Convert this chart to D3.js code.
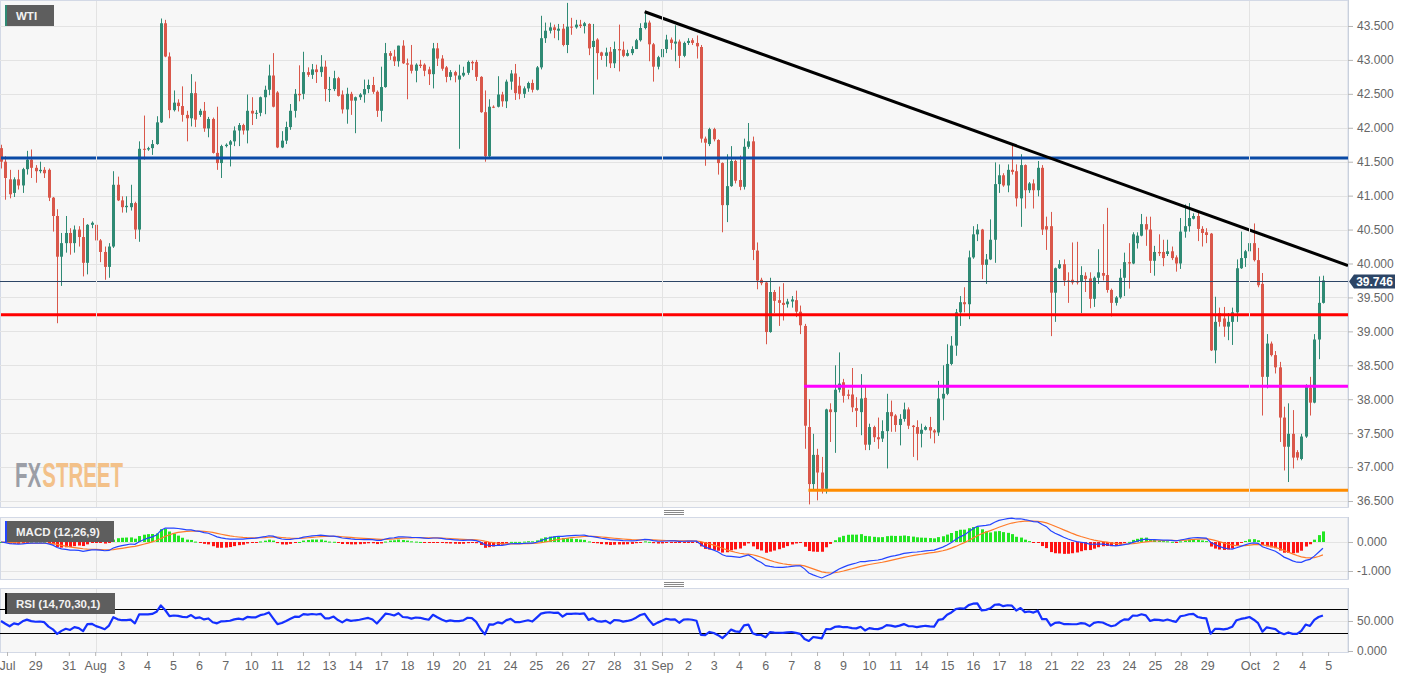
<!DOCTYPE html>
<html><head><meta charset="utf-8">
<script src="https://cdnjs.cloudflare.com/ajax/libs/d3/7.8.5/d3.min.js"></script>
<style>body{margin:0;background:#fff}svg{display:block}text{font-family:"Liberation Sans",Arial,sans-serif}</style>
</head><body><svg id="c" width="1413" height="678"></svg>
<script>
// ---- WTI 4-hour candles ----
const opens=[41.70,41.50,41.24,41.04,41.24,41.15,41.39,41.53,41.41,41.36,
41.38,41.38,40.97,40.70,40.10,40.30,40.45,40.30,40.50,40.39,
40.01,40.57,40.57,40.34,40.17,39.95,40.25,41.16,40.93,40.83,
40.83,40.89,40.50,41.69,41.68,41.70,41.76,42.08,43.54,43.05,
42.26,42.37,42.32,42.19,42.14,42.51,42.19,42.25,41.99,42.13,
41.63,41.48,41.73,41.75,41.80,41.96,42.04,41.96,42.25,42.21,
42.22,42.45,42.56,42.77,42.52,41.71,41.81,42.01,42.25,42.50,
42.50,42.82,42.78,42.86,42.82,42.90,42.57,42.57,42.73,42.49,
42.27,42.50,42.40,42.45,42.49,42.57,42.63,42.53,42.25,42.60,
43.10,43.05,42.98,43.21,42.95,42.93,42.84,42.93,42.93,42.86,
42.79,43.17,43.02,42.89,42.75,42.82,42.71,42.77,42.81,42.97,
42.97,42.75,42.23,41.58,42.31,42.31,42.49,42.39,42.68,42.80,
42.62,42.50,42.58,42.66,42.56,42.89,43.32,43.43,43.48,43.43,
43.46,43.22,43.49,43.48,43.52,43.50,43.53,43.19,43.30,43.11,
43.06,43.12,42.95,43.16,43.15,43.06,43.10,43.16,43.29,43.47,
43.55,43.23,42.90,43.04,43.16,43.30,43.24,43.27,43.06,43.25,
43.29,43.25,43.19,41.84,41.76,41.98,41.82,41.48,40.86,41.14,
41.51,41.23,41.13,41.72,41.80,40.19,39.76,39.72,38.99,39.58,
39.46,39.42,39.40,39.44,39.46,39.29,39.08,37.59,36.75,37.18,
36.92,36.68,37.85,37.81,38.14,38.25,38.07,38.07,37.87,37.81,
38.02,37.33,37.59,37.44,37.42,37.53,37.81,37.76,37.62,37.71,
37.85,37.61,37.59,37.49,37.55,37.59,37.54,37.51,38.01,38.08,
38.52,38.79,39.28,39.43,39.40,40.09,40.43,40.50,39.98,40.06,
40.35,41.17,41.30,41.15,41.38,41.36,40.96,41.45,41.08,41.18,
41.08,41.41,40.55,40.55,39.57,39.93,39.99,39.75,39.76,39.74,
39.73,39.82,39.78,39.48,39.79,39.86,39.83,39.61,39.42,39.50,
39.79,40.02,40.00,40.30,40.41,40.58,40.50,40.04,40.17,40.17,
40.14,40.18,40.09,40.00,40.47,40.55,40.66,40.70,40.51,40.46,
40.44,38.72,39.27,39.19,39.07,39.14,39.28,39.93,40.08,40.18,
40.30,40.05,39.70,38.33,38.82,38.65,38.47,37.73,37.30,37.49,
37.22,37.12,37.45,38.17,37.95,38.88,39.42];
const highs=[41.75,41.58,41.38,41.27,41.38,41.41,41.66,41.68,41.45,41.50,
41.42,41.40,40.98,40.80,40.45,40.70,40.52,40.56,40.55,40.67,
40.58,40.62,40.60,40.36,40.25,40.30,41.36,41.28,40.99,40.99,
41.16,40.91,41.80,42.18,41.72,41.82,42.17,43.61,43.59,43.11,
42.55,42.42,42.61,42.25,42.79,42.68,42.28,42.38,42.16,42.15,
42.31,41.75,41.77,41.82,42.02,42.07,42.06,42.49,42.45,42.26,
42.46,42.62,42.93,43.10,42.54,41.95,42.09,42.35,42.57,42.92,
43.12,42.89,42.94,42.93,43.07,42.99,42.75,42.84,42.75,42.55,
42.59,42.53,42.46,42.51,42.71,42.71,42.75,42.55,42.90,43.25,
43.13,43.15,43.21,43.29,43.02,43.22,42.95,43.00,42.95,42.90,
43.25,43.25,43.07,42.91,42.85,42.84,42.93,42.90,42.99,42.99,
43.00,42.76,42.55,42.42,42.33,42.76,42.53,42.71,42.85,42.94,
42.75,42.61,42.68,42.71,42.91,43.65,43.55,43.55,43.52,43.53,
43.53,43.84,43.62,43.59,43.59,43.56,43.54,43.53,43.32,43.12,
43.18,43.19,43.27,43.52,43.27,43.15,43.20,43.31,43.54,43.71,
43.58,43.25,43.06,43.17,43.37,43.33,43.51,43.30,43.27,43.32,
43.32,43.36,43.22,41.87,42.00,42.00,41.83,41.49,41.61,41.73,
41.53,41.59,41.84,42.07,41.87,40.31,39.79,39.73,39.79,39.61,
39.66,39.71,39.48,39.52,39.60,39.38,39.11,38.00,37.49,37.27,
37.15,37.86,37.94,38.50,38.69,38.30,38.14,38.46,38.03,38.37,
38.19,37.64,37.61,37.73,37.69,38.08,37.98,37.78,37.78,37.95,
37.88,37.62,37.69,37.64,37.61,37.74,37.56,38.27,38.50,38.81,
38.93,39.33,39.52,39.65,40.19,40.55,40.58,40.51,40.14,40.65,
41.49,41.46,41.33,41.46,41.75,41.46,41.61,41.46,41.20,41.24,
41.51,41.45,40.69,40.76,39.94,40.05,40.06,39.87,40.31,40.32,
39.96,39.87,39.87,39.81,40.21,40.58,40.82,39.63,39.52,39.92,
40.16,40.30,40.46,40.46,40.73,40.69,40.69,40.26,40.43,40.35,
40.35,40.25,40.12,40.67,40.87,40.89,40.74,40.77,40.55,40.52,
40.45,39.51,39.35,39.36,39.27,39.35,40.06,40.47,40.20,40.40,
40.59,40.23,39.86,38.96,38.85,38.71,38.55,37.89,37.94,37.84,
37.25,37.49,38.22,38.33,38.96,39.81,39.82];
const lows=[41.40,40.94,40.96,40.98,41.09,41.04,41.31,41.26,41.19,41.33,
41.26,40.92,40.47,39.12,39.67,40.16,40.13,40.16,40.25,39.81,
39.84,40.52,40.32,40.02,39.76,39.79,40.23,40.92,40.75,40.75,
40.78,40.36,40.32,41.53,41.66,41.60,41.75,42.07,43.04,42.14,
42.24,42.24,42.09,41.80,42.02,42.01,42.16,41.94,41.86,41.62,
41.38,41.26,41.71,41.43,41.73,41.73,41.90,41.77,42.04,42.13,
42.17,42.20,42.48,42.30,41.70,41.70,41.76,41.97,42.15,42.39,
42.42,42.75,42.72,42.66,42.75,42.39,42.38,42.54,42.46,42.21,
42.06,42.19,41.92,42.41,42.37,42.51,42.50,42.16,42.09,42.59,
43.00,42.91,42.90,42.94,42.42,42.80,42.67,42.88,42.76,42.63,
42.58,42.91,42.84,42.67,42.70,42.67,41.69,42.75,42.78,42.85,
42.69,42.22,41.50,41.57,42.29,42.30,42.31,42.29,42.56,42.41,
42.42,42.44,42.53,42.52,42.55,42.86,43.25,43.39,43.32,43.29,
43.20,43.10,43.37,43.46,43.47,43.39,43.07,42.49,42.71,43.00,
42.90,42.88,42.88,42.83,43.04,43.05,43.07,43.16,43.27,43.45,
42.98,42.68,42.86,43.03,43.10,43.15,42.98,42.88,43.04,43.22,
43.22,43.02,41.78,41.44,41.73,41.80,41.31,40.46,40.61,41.13,
41.18,41.08,41.09,41.69,40.05,39.62,39.68,38.81,38.98,39.27,
39.08,39.16,39.35,39.35,39.21,38.96,37.27,36.45,36.67,36.51,
36.61,36.61,37.37,37.21,38.10,37.95,38.00,37.81,37.59,37.47,
37.25,37.25,37.37,37.27,37.37,36.98,37.52,37.52,37.32,37.67,
37.56,37.15,37.10,37.29,37.54,37.42,37.35,37.46,37.69,38.06,
38.50,38.64,39.08,39.28,39.18,40.07,40.33,39.77,39.70,40.05,
40.01,41.04,41.13,41.05,41.31,40.84,40.54,40.81,41.04,40.81,
40.99,40.42,40.20,38.93,39.14,39.92,39.67,39.42,39.69,39.69,
39.27,39.58,39.34,39.36,39.70,39.75,39.57,39.22,39.38,39.48,
39.52,39.63,39.99,40.22,40.40,40.26,39.86,39.82,40.11,39.96,
40.11,40.05,39.88,39.92,40.38,40.47,40.65,40.33,40.25,40.30,
38.71,38.53,39.07,38.92,38.87,38.80,39.14,39.92,39.95,40.15,
40.03,39.65,37.76,38.16,38.63,38.38,37.37,36.95,36.78,36.98,
37.10,37.10,37.43,37.76,37.94,38.59,39.41];
const closes=[41.50,41.26,41.02,41.24,41.15,41.39,41.53,41.41,41.36,41.38,
41.33,40.97,40.70,40.10,40.30,40.45,40.30,40.50,40.39,40.01,
40.57,40.60,40.34,40.17,39.95,40.25,41.16,40.93,40.83,40.85,
40.89,40.50,41.69,41.68,41.70,41.76,42.08,43.54,43.05,42.26,
42.37,42.32,42.19,42.14,42.51,42.12,42.25,41.99,42.13,41.63,
41.48,41.73,41.75,41.80,41.96,42.04,41.96,42.25,42.21,42.22,
42.45,42.56,42.77,42.31,41.71,41.81,42.01,42.25,42.50,42.48,
42.82,42.78,42.86,42.82,42.90,42.57,42.57,42.73,42.47,42.27,
42.50,42.40,42.45,42.49,42.57,42.63,42.53,42.25,42.60,43.10,
43.06,42.98,43.21,42.95,42.93,42.84,42.93,42.91,42.84,42.79,
43.17,43.02,42.87,42.75,42.82,42.77,42.77,42.81,42.97,42.95,
42.75,42.23,41.58,42.31,42.30,42.49,42.39,42.68,42.80,42.51,
42.50,42.58,42.66,42.56,42.89,43.32,43.43,43.48,43.44,43.46,
43.22,43.49,43.48,43.52,43.50,43.54,43.17,43.28,43.10,43.06,
43.11,42.95,43.16,43.14,43.06,43.10,43.16,43.29,43.47,43.55,
43.23,42.90,43.04,43.16,43.30,43.25,43.27,43.06,43.25,43.28,
43.25,43.20,41.84,41.78,41.98,41.83,41.48,40.86,41.14,41.51,
41.22,41.13,41.72,41.80,40.20,39.75,39.71,38.99,39.58,39.45,
39.42,39.39,39.44,39.47,39.29,39.09,37.61,36.75,37.18,36.92,
36.68,37.85,37.81,38.14,38.23,38.05,38.05,37.88,37.83,38.01,
37.33,37.59,37.44,37.41,37.53,37.81,37.75,37.62,37.71,37.85,
37.61,37.59,37.49,37.55,37.59,37.54,37.51,38.01,38.08,38.52,
38.79,39.28,39.43,39.40,40.09,40.43,40.50,39.98,40.06,40.35,
41.17,41.30,41.15,41.38,41.35,40.96,41.45,41.08,41.18,41.08,
41.41,40.50,40.50,39.57,39.93,39.99,39.75,39.73,39.72,39.72,
39.83,39.77,39.48,39.79,39.87,39.82,39.61,39.42,39.50,39.79,
40.02,40.00,40.43,40.41,40.58,40.50,40.04,40.17,40.15,40.08,
40.18,40.08,40.00,40.47,40.55,40.67,40.70,40.51,40.45,40.42,
38.72,39.14,39.14,39.07,39.14,39.28,39.93,40.08,40.18,40.30,
40.05,39.68,38.33,38.82,38.65,38.47,37.73,37.30,37.49,37.14,
37.14,37.45,38.21,37.95,38.88,39.42,39.75];

// ---- axis labels ----
const dayLabels=["Jul","29","31","Aug","3","4","5","6","7","10","11","12","13","14","17","18","19","20","21","24","25","26","27","28","31","Sep","2","3","4","6","7","8","9","10","11","14","15","16","17","18","21","22","23","24","25","28","29","Oct","2","4","5"];
const dayIdx=[1.4,7.9,15.7,21.8,27.8,33.8,39.8,45.8,51.9,57.9,63.9,69.9,75.9,82,88,94,100,106,111.8,117.8,123.8,129.9,135.9,141.9,147.9,153,159,165,170.8,176.9,182.9,188.9,194.9,200.9,207,213,219,225,231,237,243.1,249.1,255.1,261.1,267.1,273.1,279.2,289.1,295.1,301.2,307.2];
const monthIdx=[21.9,152.9,288.9];
const priceTicks=[36.5,37,37.5,38,38.5,39,39.5,40,40.5,41,41.5,42,42.5,43,43.5];
const macdTicks=[0,-1];
const rsiTicks=[0,50];
const rsiBands=[70,30];
const lastPrice=39.746;
// drawn study lines
const hLevels=[{p:41.555,from:0,color:"#0a4aa6"},{p:39.245,from:0,color:"#ff0000"},{p:38.19,from:185.9,color:"#ff00ff"},{p:36.657,from:186.9,color:"#ff8c00"}];
const trendLine=[{i:149,p:43.71},{i:311.8,p:39.97}];

// ---- indicators derived from closes ----
function ema(a,n){const k=2/(n+1);let e=a[0];return a.map((v,i)=>i===0?e:(e=v*k+e*(1-k)));}
const e12=ema(closes,12), e26=ema(closes,26);
const macd=closes.map((_,i)=>e12[i]-e26[i]);
const signal=ema(macd,9);
const hist=macd.map((m,i)=>m-signal[i]);
const rsi=(()=>{let ag=0.09,al=0.09;const out=[50];for(let i=1;i<closes.length;i++){const ch=closes[i]-closes[i-1];ag=(ag*13+Math.max(ch,0))/14;al=(al*13+Math.max(-ch,0))/14;out.push(100-100/(1+ag/al));}return out;})();

// ---- layout ----
const svg=d3.select("#c");
const PW=1348;
const x=d3.scaleLinear().domain([0,306]).range([1,1+306*4.32]);
const y=d3.scaleLinear().domain([36.412,43.868]).range([507,1]);
const ym=d3.scaleLinear().domain([-1.276,0.862]).range([579,517]);
// histogram uses its own (tighter) scale, zero aligned with the MACD zero line
const yh=d3.scaleLinear().domain([-1.276/1.6,0.862/1.6]).range([579,517]);
const yr=d3.scaleLinear().domain([-1.67,105]).range([652,588]);
const N=closes.length, idx=d3.range(N);

const defs=svg.append("defs");
function clip(id,y0,y1){defs.append("clipPath").attr("id",id).append("rect").attr("x",0).attr("y",y0).attr("width",PW).attr("height",y1-y0);}
clip("cm",0,507);clip("cd",517,579);clip("cr",588,652);

function panel(y0,y1){svg.append("rect").attr("x",0.5).attr("y",y0+0.5).attr("width",PW-0.5).attr("height",y1-y0).attr("fill","#f7f7f7").attr("stroke","#d3d9e6");}
panel(0,507);panel(517,579);panel(588,652);

// grids
const gm=svg.append("g").attr("clip-path","url(#cm)");
gm.selectAll("line.h").data(priceTicks).join("line").attr("x1",0).attr("x2",PW).attr("y1",d=>Math.round(y(d))+0.5).attr("y2",d=>Math.round(y(d))+0.5).attr("stroke","#e3e3e3");
[[0,507],[517,579],[588,652]].forEach(([a,b])=>{
  svg.selectAll(null).data(monthIdx).join("line").attr("x1",d=>Math.round(x(d))+0.5).attr("x2",d=>Math.round(x(d))+0.5).attr("y1",a+1).attr("y2",b).attr("stroke","#e3e3e3");
});
svg.selectAll(null).data(macdTicks).join("line").attr("x1",1).attr("x2",PW).attr("y1",d=>Math.round(ym(d))+0.5).attr("y2",d=>Math.round(ym(d))+0.5).attr("stroke","#e3e3e3");
svg.append("line").attr("x1",1).attr("x2",PW).attr("y1",Math.round(yr(50))+0.5).attr("y2",Math.round(yr(50))+0.5).attr("stroke","#e3e3e3");

// watermark: two texts side by side, compressed horizontally as a group
const wg=gm.append("g");
const wFX=wg.append("text").attr("x",0).attr("y",0).attr("font-size",36).attr("font-weight","bold").attr("fill","#9b9ea6").text("FX");
const w1=wFX.node().getComputedTextLength();
const wST=wg.append("text").attr("x",w1+2).attr("y",0).attr("font-size",36).attr("font-weight","bold").attr("fill","#f3c189").text("STREET");
const wTot=w1+2+wST.node().getComputedTextLength();
wg.attr("transform",`translate(15,487) scale(${108/wTot},1)`);

// candles
const UP="#2f8a74", DN="#d9574a";
const cg=gm.append("g");
cg.selectAll("line").data(idx).join("line")
  .attr("x1",i=>Math.round(x(i))+0.5).attr("x2",i=>Math.round(x(i))+0.5)
  .attr("y1",i=>y(highs[i])).attr("y2",i=>y(lows[i]))
  .attr("stroke",i=>closes[i]>=opens[i]?UP:DN).attr("stroke-width",1);
cg.selectAll("rect").data(idx).join("rect")
  .attr("x",i=>Math.round(x(i))-1).attr("width",3)
  .attr("y",i=>y(Math.max(opens[i],closes[i])))
  .attr("height",i=>Math.max(1,Math.abs(y(opens[i])-y(closes[i]))))
  .attr("fill",i=>closes[i]>=opens[i]?UP:DN);

// levels
gm.selectAll("line.lv").data(hLevels).join("line").attr("x1",d=>x(d.from)).attr("x2",PW).attr("y1",d=>y(d.p)).attr("y2",d=>y(d.p)).attr("stroke",d=>d.color).attr("stroke-width",3);
gm.append("line").attr("x1",x(trendLine[0].i)).attr("y1",y(trendLine[0].p)).attr("x2",x(trendLine[1].i)).attr("y2",y(trendLine[1].p)).attr("stroke","#000").attr("stroke-width",3);
gm.append("line").attr("x1",0).attr("x2",PW).attr("y1",Math.round(y(lastPrice))+0.5).attr("y2",Math.round(y(lastPrice))+0.5).attr("stroke","#2c4566").attr("stroke-width",1);

// MACD
const gd=svg.append("g").attr("clip-path","url(#cd)");
gd.selectAll("rect").data(idx).join("rect")
  .attr("x",i=>Math.round(x(i))-1).attr("width",3)
  .attr("y",i=>hist[i]>=0?yh(hist[i]):yh(0))
  .attr("height",i=>Math.max(1,Math.abs(yh(hist[i])-yh(0))))
  .attr("fill",i=>hist[i]>=0?"#22e622":"#ff1414");
gd.append("path").datum(idx).attr("fill","none").attr("stroke","#ff7b2a").attr("stroke-width",1.2).attr("d",d3.line().x(i=>x(i)).y(i=>ym(signal[i])));
gd.append("path").datum(idx).attr("fill","none").attr("stroke","#2444ff").attr("stroke-width",1.2).attr("d",d3.line().x(i=>x(i)).y(i=>ym(macd[i])));

// RSI
const gr=svg.append("g").attr("clip-path","url(#cr)");
gr.selectAll("line").data(rsiBands).join("line").attr("x1",0).attr("x2",PW).attr("y1",d=>Math.round(yr(d))+0.5).attr("y2",d=>Math.round(yr(d))+0.5).attr("stroke","#000");
gr.append("path").datum(idx).attr("fill","none").attr("stroke","#1430ff").attr("stroke-width",2.2).attr("stroke-linejoin","round").attr("d",d3.line().x(i=>x(i)).y(i=>yr(rsi[i])));

// axes
function styleAxis(g){g.selectAll("text").attr("fill","#666").attr("font-size",12);g.selectAll(".tick line").attr("stroke","#b5b5b5");g.select(".domain").attr("stroke","#c9d0dc");}
const f3=d=>d.toFixed(3);
svg.append("g").attr("transform",`translate(${PW},0)`).call(d3.axisRight(y).tickValues(priceTicks).tickFormat(f3).tickSize(5).tickPadding(4)).call(styleAxis).call(g=>g.select(".domain").attr("d","M0.5,0V507.5"));
svg.append("g").attr("transform",`translate(${PW},0)`).call(d3.axisRight(ym).tickValues(macdTicks).tickFormat(f3).tickSize(5).tickPadding(4)).call(styleAxis).call(g=>g.select(".domain").attr("d","M0.5,517V579.5"));
svg.append("g").attr("transform",`translate(${PW},0)`).call(d3.axisRight(yr).tickValues(rsiTicks).tickFormat(f3).tickSize(5).tickPadding(4)).call(styleAxis).call(g=>g.select(".domain").attr("d","M0.5,588V652.5"));
svg.append("g").attr("transform","translate(0,652)").call(d3.axisBottom(x).tickValues(dayIdx).tickFormat((d,i)=>dayLabels[i]).tickSize(4).tickPadding(5)).call(styleAxis).call(g=>g.select(".domain").remove()).call(g=>g.selectAll("text").attr("font-size",12.5));

// last price tag
const ly=Math.round(y(lastPrice))+0.5;
svg.append("path").attr("d",`M1349,${ly} L1354,${ly-7} L1395,${ly-7} L1395,${ly+7} L1354,${ly+7} Z`).attr("fill","#2c4566");
svg.append("text").attr("x",1374.5).attr("y",ly+4.5).attr("text-anchor","middle").attr("fill","#fff").attr("font-size",12).attr("font-weight","bold").text(lastPrice.toFixed(3));

// legend boxes
function tag(x0,y0,w,stripe,label){svg.append("rect").attr("x",x0).attr("y",y0).attr("width",w).attr("height",21).attr("fill","#5e5e5e");svg.append("rect").attr("x",x0).attr("y",y0).attr("width",2).attr("height",21).attr("fill",stripe);svg.append("text").attr("x",x0+11).attr("y",y0+15).attr("fill","#f2f2f2").attr("font-size",11.5).attr("font-weight","bold").text(label);}
tag(5,5,49,"#2f8a74","WTI");
tag(5,521,109,"#2444ff","MACD (12,26,9)");
tag(5,593,110,"#000","RSI (14,70,30,1)");

// panel handles
[512,584].forEach(cy=>{[-2,0,2].forEach(o=>svg.append("line").attr("x1",664).attr("x2",684).attr("y1",cy+o+0.5).attr("y2",cy+o+0.5).attr("stroke","#888"));});
</script></body></html>
